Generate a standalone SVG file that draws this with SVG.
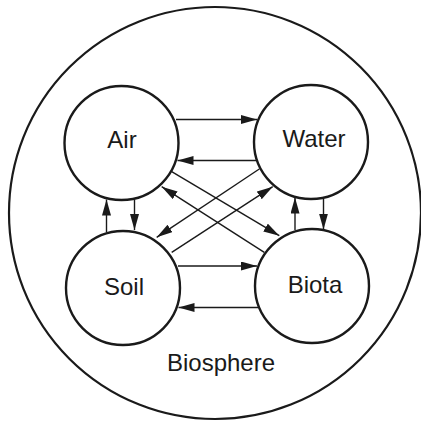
<svg xmlns="http://www.w3.org/2000/svg" width="421" height="425" viewBox="0 0 421 425">
<style>
.node{fill:#fff;stroke:#1a1a1a;stroke-width:2.4}
.outer{fill:#fff;stroke:#1a1a1a;stroke-width:2.2}
.lbl{font-family:"Liberation Sans",Arial,sans-serif;font-size:24px;fill:#1a1a1a;text-anchor:middle}
.c line{stroke:#1a1a1a;stroke-width:1.4;marker-end:url(#ah)}
</style>
<defs>
<marker id="ah" markerUnits="userSpaceOnUse" markerWidth="17" markerHeight="10" refX="16" refY="4.5" orient="auto">
<path d="M0,0 L16,4.5 L0,9 z" fill="#1a1a1a"/>
</marker>
</defs>
<rect width="421" height="425" fill="#fff"/>
<g id="biosphere">
<circle class="outer" cx="215" cy="213" r="206"/>
<text class="lbl" x="221" y="371">Biosphere</text>
</g>
<g class="c" id="connectors">
<line x1="176" y1="119.5" x2="257" y2="119.5"/>
<line x1="256" y1="160.5" x2="177.5" y2="160.5"/>
<line x1="178" y1="266" x2="257" y2="266"/>
<line x1="258" y1="307.5" x2="178.5" y2="307.5"/>
<line x1="134.5" y1="199.5" x2="134.5" y2="230"/>
<line x1="106.5" y1="232" x2="106.5" y2="199.5"/>
<line x1="323.5" y1="199" x2="323.5" y2="229.5"/>
<line x1="295" y1="230" x2="295" y2="197.5"/>
<line x1="171.7" y1="171.7" x2="279.3" y2="235.7"/>
<line x1="264.3" y1="252.3" x2="161.7" y2="186.7"/>
<line x1="259.3" y1="169" x2="156.7" y2="237.3"/>
<line x1="171.7" y1="252.3" x2="272.7" y2="186.7"/>
</g>
<g id="air">
<circle class="node" cx="121.5" cy="143" r="57"/>
<text class="lbl" x="122" y="148">Air</text>
</g>
<g id="water">
<circle class="node" cx="311" cy="142" r="57"/>
<text class="lbl" x="314" y="147">Water</text>
</g>
<g id="soil">
<circle class="node" cx="123" cy="288" r="57"/>
<text class="lbl" x="124" y="295">Soil</text>
</g>
<g id="biota">
<circle class="node" cx="312" cy="286" r="57"/>
<text class="lbl" x="315" y="293">Biota</text>
</g>
</svg>
